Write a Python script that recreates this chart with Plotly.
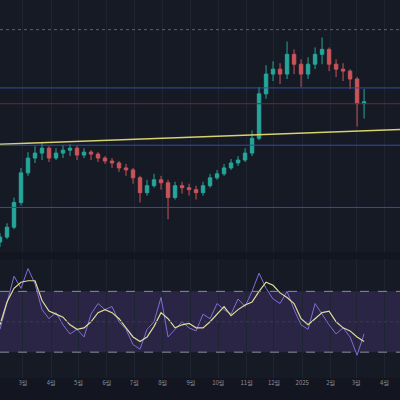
import plotly.graph_objects as go
from plotly.subplots import make_subplots
import pandas as pd

# candles roughly every 7.7 days
dates = pd.date_range("2024-02-05", periods=53, freq="184h")
closes = [20, 30, 55, 85, 100, 105, 110, 100, 105, 108, 110, 103, 106, 104, 100, 97, 95, 90,
          88, 80, 65, 72, 78, 75, 60, 72, 70, 68, 65, 72, 80, 84, 90, 95, 98, 105, 120, 165,
          185, 190, 185, 205, 195, 185, 195, 205, 210, 195, 190, 188, 180, 155, 157]
opens = [15] + closes[:-1]
highs = [24, 34, 60, 90, 106, 112, 115, 112, 110, 113, 114, 112, 110, 108, 106, 102, 100, 97,
         94, 90, 82, 78, 84, 82, 78, 76, 76, 74, 72, 76, 84, 88, 94, 99, 102, 110, 128, 172,
         194, 198, 196, 218, 210, 200, 202, 212, 222, 212, 200, 196, 190, 182, 170]
lows = [10, 18, 28, 52, 82, 95, 98, 96, 98, 100, 102, 98, 100, 98, 96, 94, 90, 86,
        82, 74, 55, 62, 70, 68, 38, 58, 64, 62, 58, 62, 70, 78, 82, 88, 92, 96, 102, 118,
        160, 178, 175, 180, 185, 172, 180, 190, 195, 188, 182, 178, 170, 132, 140]

rsi = [45, 62, 80, 72, 85, 75, 58, 52, 56, 48, 42, 45, 40, 55, 62, 58, 60, 50, 45, 35, 32, 45,
       50, 66, 40, 45, 50, 46, 44, 55, 52, 62, 58, 55, 65, 60, 70, 82, 72, 65, 62, 70, 58, 48,
       45, 62, 55, 48, 42, 46, 40, 28, 42]
rsi_ma = [48, 63, 72, 76, 77, 77, 64, 57, 55, 53, 48, 45, 46, 50, 56, 58, 56, 52, 46, 40, 37,
          40, 47, 56, 52, 46, 48, 49, 46, 46, 50, 55, 60, 54, 58, 61, 63, 70, 76, 74, 69, 66,
          62, 52, 48, 52, 56, 57, 50, 46, 44, 40, 37]

tick_dates = ["2024-03-01", "2024-04-01", "2024-05-01", "2024-06-01", "2024-07-01", "2024-08-01",
              "2024-09-01", "2024-10-01", "2024-11-01", "2024-12-01", "2025-01-01", "2025-02-01",
              "2025-03-01", "2025-04-01"]
tick_text = ["3월", "4월", "5월", "6월", "7월", "8월", "9월", "10월", "11월", "12월", "2025",
             "2월", "3월", "4월"]

levels = [(230, "#5d6275", "dot"), (171, "#2f4f9e", "solid"), (155, "#6b2a35", "solid"),
          (113, "#2f4f9e", "solid"), (50, "#2f4f9e", "solid")]
trend_x = ["2024-02-05", "2025-04-18"]
trend_y = [114, 129]

fig = make_subplots(rows=2, cols=1, shared_xaxes=True, row_heights=[0.68, 0.32],
                    vertical_spacing=0.02)

fig.add_trace(go.Candlestick(
    x=dates, open=opens, high=highs, low=lows, close=closes,
    increasing=dict(line=dict(color="#26a69a", width=1), fillcolor="#26a69a"),
    decreasing=dict(line=dict(color="#c9545a", width=1), fillcolor="#c9545a"),
    whiskerwidth=0, showlegend=False), row=1, col=1)

fig.add_trace(go.Scatter(x=trend_x, y=trend_y, mode="lines",
                         line=dict(color="#d8d26a", width=1.5), showlegend=False), row=1, col=1)

for lvl, col, dash in levels:
    fig.add_shape(type="line", xref="x domain", yref="y", x0=0, x1=1, y0=lvl, y1=lvl,
                  line=dict(color=col, width=1, dash=dash))

# RSI panel
fig.add_shape(type="rect", xref="x2 domain", yref="y2", x0=0, x1=1, y0=30, y1=70,
              fillcolor="rgba(126,87,194,0.2)", line_width=0, layer="below")
for lvl, col, dash in [(70, "#8a8d9e", "dash"), (30, "#8a8d9e", "dash"), (50, "#3a3d52", "dot")]:
    fig.add_shape(type="line", xref="x2 domain", yref="y2", x0=0, x1=1, y0=lvl, y1=lvl,
                  line=dict(color=col, width=1, dash=dash))
fig.add_trace(go.Scatter(x=dates, y=rsi, mode="lines", line=dict(color="#7e6fd6", width=1),
                         showlegend=False), row=2, col=1)
fig.add_trace(go.Scatter(x=dates, y=rsi_ma, mode="lines", line=dict(color="#e0dc9a", width=1.2),
                         showlegend=False), row=2, col=1)

fig.update_layout(
    width=400, height=400,
    margin=dict(l=0, r=0, t=0, b=22),
    plot_bgcolor="#161a25", paper_bgcolor="#131620",
    font=dict(family="Noto Sans CJK KR", size=6, color="#8a8e9c"),
    xaxis_rangeslider_visible=False,
)
fig.update_xaxes(range=["2024-02-05", "2025-04-18"], showgrid=True, gridcolor="#1f2433",
                 tickvals=tick_dates, ticktext=tick_text, zeroline=False)
fig.update_xaxes(showticklabels=False, row=1, col=1)
fig.update_yaxes(showticklabels=False, showgrid=False, zeroline=False)
fig.update_yaxes(range=[5, 260], row=1, col=1)
fig.update_yaxes(range=[13, 91], row=2, col=1)

fig.write_html("out.html", config={"displayModeBar": False},
               post_script="document.body.style.margin='0';document.body.style.background='#131620';")
